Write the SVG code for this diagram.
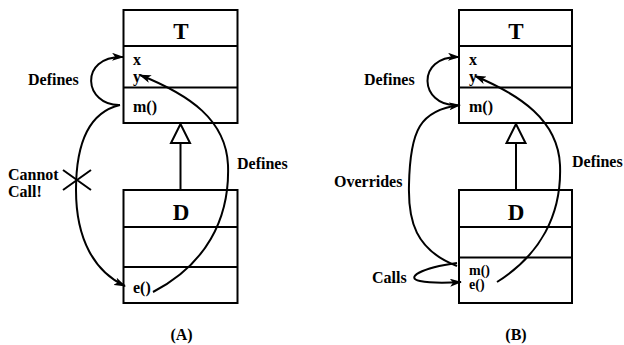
<svg xmlns="http://www.w3.org/2000/svg" width="624" height="345" viewBox="0 0 624 345">
<style>
.box{fill:#fff;stroke:#000;stroke-width:2}
.ln{fill:none;stroke:#000;stroke-width:2}
text{font-family:'Liberation Serif','DejaVu Serif','Times New Roman',serif;font-weight:700;fill:#000}
.t{font-size:16px}
.s{font-size:14px}
.h{font-size:23px;text-anchor:middle}
.c{text-anchor:middle}
</style>
<defs>
<marker id="ah" viewBox="0 0 12 8" refX="11" refY="4" markerWidth="12" markerHeight="8" markerUnits="userSpaceOnUse" orient="auto">
<path d="M0,0 L12,4 L0,8 L3,4 Z" fill="#000"/>
</marker>
</defs>
<rect width="624" height="345" fill="#fff"/>
<g id="A-T">
<rect class="box" x="123.5" y="10" width="114" height="113"/>
<line class="ln" x1="123.5" y1="46" x2="237.5" y2="46"/>
<line class="ln" x1="123.5" y1="87.5" x2="237.5" y2="87.5"/>
<text class="h" x="181" y="39">T</text>
<text class="t" x="133" y="65">x</text>
<text class="t" x="133" y="82">y</text>
<text class="t" x="133" y="112">m()</text>
</g>
<g id="A-D">
<rect class="box" x="123.5" y="190" width="114" height="113"/>
<line class="ln" x1="123.5" y1="227" x2="237.5" y2="227"/>
<line class="ln" x1="123.5" y1="267" x2="237.5" y2="267"/>
<text class="h" x="181" y="220">D</text>
<text class="t" x="133" y="293">e()</text>
</g>
<g id="B-T">
<rect class="box" x="459" y="10" width="113" height="113"/>
<line class="ln" x1="459" y1="46" x2="572" y2="46"/>
<line class="ln" x1="459" y1="87.5" x2="572" y2="87.5"/>
<text class="h" x="516" y="39">T</text>
<text class="t" x="469" y="65">x</text>
<text class="t" x="469" y="82">y</text>
<text class="t" x="469" y="112">m()</text>
</g>
<g id="B-D">
<rect class="box" x="459" y="190" width="113" height="113"/>
<line class="ln" x1="459" y1="227" x2="572" y2="227"/>
<line class="ln" x1="459" y1="257.5" x2="572" y2="257.5"/>
<text class="h" x="516" y="220">D</text>
<text class="s" x="469" y="275">m()</text>
<text class="s" x="469" y="289">e()</text>
</g>
<g id="connectors">
<line class="ln" x1="180.5" y1="143" x2="180.5" y2="190"/>
<polygon class="box" points="180.5,124 171,143 190,143"/>
<line class="ln" x1="516" y1="143" x2="516" y2="190"/>
<polygon class="box" points="516,124 506.5,143 525.5,143"/>
<path class="ln" d="M120,105 C84,106 78,56 123,57" marker-end="url(#ah)"/>
<path class="ln" d="M120,105 C90,112 76,140 76,190 C76,240 95,272 125,286" marker-end="url(#ah)"/>
<path class="ln" d="M63,170 L91,190 M63,190 L91,170"/>
<path class="ln" d="M153,292 C205,265 230,220 228,165 C226,120 190,95 140,75" marker-end="url(#ah)"/>
<path class="ln" d="M456,105 C420,106 415,56 459,57" marker-end="url(#ah)"/>
<path class="ln" d="M457,266 C415,250 408,220 409,185 C410,130 420,110 460,105" marker-end="url(#ah)"/>
<path class="ln" d="M457,263 C420,268 405,278 420,281 C430,283 445,283 461,282" marker-end="url(#ah)"/>
<path class="ln" d="M497,282 C540,255 562,215 560,165 C558,120 520,95 475,76" marker-end="url(#ah)"/>
</g>
<g id="labels">
<text class="t" x="28" y="85">Defines</text>
<text class="t" x="8" y="180">Cannot</text>
<text class="t" x="8" y="197">Call!</text>
<text class="t" x="237" y="169">Defines</text>
<text class="t c" x="181.5" y="340">(A)</text>
<text class="t" x="364" y="85">Defines</text>
<text class="t" x="334" y="187">Overrides</text>
<text class="t" x="372" y="283">Calls</text>
<text class="t" x="572" y="167">Defines</text>
<text class="t c" x="516" y="340">(B)</text>
</g>
</svg>
